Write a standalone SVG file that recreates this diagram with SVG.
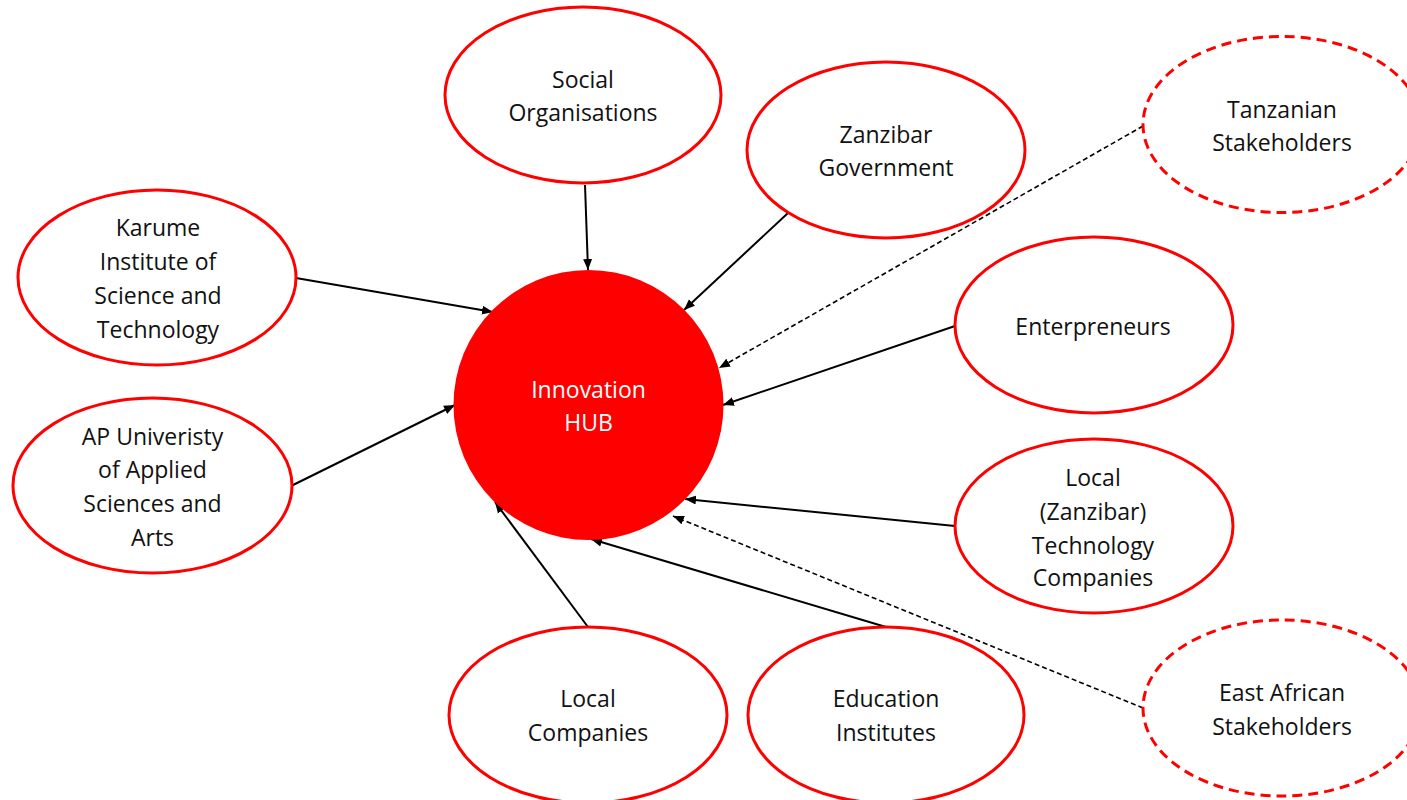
<svg xmlns="http://www.w3.org/2000/svg" width="1407" height="800" viewBox="0 0 1407 800">
<defs>
<style>
.node{fill:#fff;stroke:#FF0000;stroke-width:3}
.dnode{fill:#fff;stroke:#FF0000;stroke-width:3;stroke-dasharray:10 6}
.lbl{font-family:"Open Sans","Liberation Sans",sans-serif;font-size:23px;fill:#111;text-anchor:middle}
.hubl{fill:#fff}
.conn{stroke:#000;stroke-width:2;fill:none}
.dconn{stroke:#000;stroke-width:1.6;fill:none;stroke-dasharray:5 3}
</style>
<marker id="arr" markerUnits="userSpaceOnUse" markerWidth="12" markerHeight="10" refX="11" refY="5" orient="auto">
<path d="M0,0.5 L11,5 L0,9.5 Z" fill="#000"/>
</marker>
</defs>
<rect width="1407" height="800" fill="#fff"/>
<g id="connectors">
<line class="conn" x1="585" y1="185" x2="588" y2="270" marker-end="url(#arr)"/>
<line class="conn" x1="788" y1="213" x2="684" y2="310" marker-end="url(#arr)"/>
<line class="conn" x1="296" y1="278" x2="493" y2="312" marker-end="url(#arr)"/>
<line class="conn" x1="291" y1="486" x2="455" y2="405" marker-end="url(#arr)"/>
<line class="dconn" x1="1143" y1="126" x2="719" y2="368" marker-end="url(#arr)"/>
<line class="conn" x1="955" y1="326" x2="723" y2="405" marker-end="url(#arr)"/>
<line class="conn" x1="955" y1="526" x2="685" y2="499" marker-end="url(#arr)"/>
<line class="dconn" x1="1143" y1="708" x2="673" y2="516" marker-end="url(#arr)"/>
<line class="conn" x1="886" y1="627" x2="591" y2="539" marker-end="url(#arr)"/>
<line class="conn" x1="588" y1="627" x2="495" y2="502" marker-end="url(#arr)"/>
</g>
<g id="hub">
<circle cx="588.5" cy="405" r="135" fill="#FF0000"/>
<text class="lbl hubl" x="588.5" y="398">Innovation</text>
<text class="lbl hubl" x="588.5" y="431">HUB</text>
</g>
<g id="social">
<ellipse class="node" cx="583" cy="95" rx="138" ry="88"/>
<text class="lbl" x="583" y="88">Social</text>
<text class="lbl" x="583" y="121">Organisations</text>
</g>
<g id="zanzibar-gov">
<ellipse class="node" cx="886" cy="150" rx="139" ry="88"/>
<text class="lbl" x="886" y="143">Zanzibar</text>
<text class="lbl" x="886" y="176">Government</text>
</g>
<g id="tanzanian">
<ellipse class="dnode" cx="1282" cy="124.5" rx="139" ry="88"/>
<text class="lbl" x="1282" y="118">Tanzanian</text>
<text class="lbl" x="1282" y="151">Stakeholders</text>
</g>
<g id="karume">
<ellipse class="node" cx="157" cy="277.5" rx="139" ry="87.5"/>
<text class="lbl" x="158" y="236">Karume</text>
<text class="lbl" x="158" y="270">Institute of</text>
<text class="lbl" x="158" y="304">Science and</text>
<text class="lbl" x="158" y="338">Technology</text>
</g>
<g id="ap-university">
<ellipse class="node" cx="152.5" cy="485.5" rx="139.5" ry="87.5"/>
<text class="lbl" x="152.5" y="445">AP Univeristy</text>
<text class="lbl" x="152.5" y="478">of Applied</text>
<text class="lbl" x="152.5" y="512">Sciences and</text>
<text class="lbl" x="152.5" y="546">Arts</text>
</g>
<g id="entrepreneurs">
<ellipse class="node" cx="1094" cy="325" rx="139" ry="88"/>
<text class="lbl" x="1093" y="335">Enterpreneurs</text>
</g>
<g id="local-tech">
<ellipse class="node" cx="1094" cy="526" rx="139" ry="87"/>
<text class="lbl" x="1093" y="486">Local</text>
<text class="lbl" x="1093" y="520">(Zanzibar)</text>
<text class="lbl" x="1093" y="554">Technology</text>
<text class="lbl" x="1093" y="586">Companies</text>
</g>
<g id="local-companies">
<ellipse class="node" cx="588" cy="715" rx="139" ry="88"/>
<text class="lbl" x="588" y="707">Local</text>
<text class="lbl" x="588" y="741">Companies</text>
</g>
<g id="education">
<ellipse class="node" cx="886" cy="715" rx="138" ry="88"/>
<text class="lbl" x="886" y="707">Education</text>
<text class="lbl" x="886" y="741">Institutes</text>
</g>
<g id="east-african">
<ellipse class="dnode" cx="1282" cy="708" rx="139" ry="88"/>
<text class="lbl" x="1282" y="701">East African</text>
<text class="lbl" x="1282" y="735">Stakeholders</text>
</g>
</svg>
